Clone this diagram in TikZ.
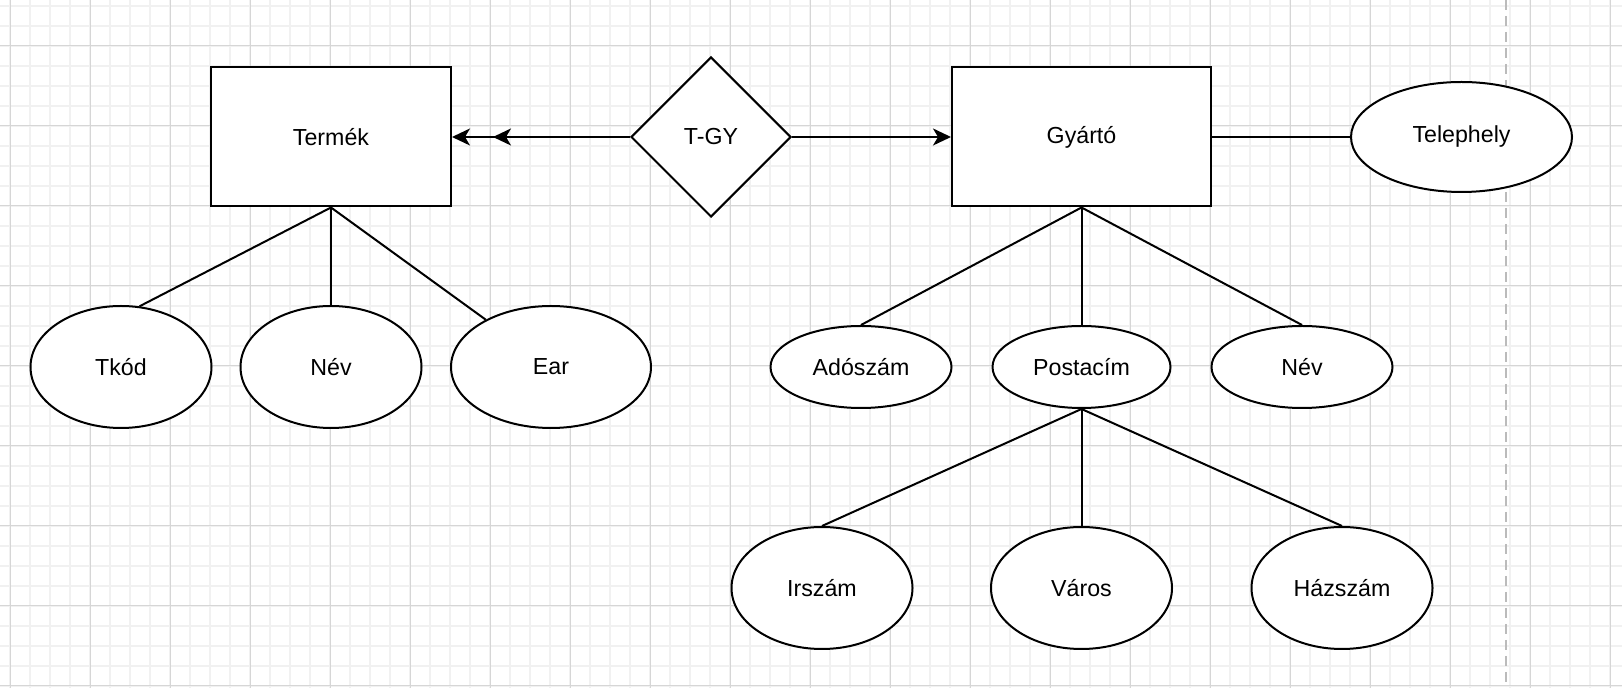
\documentclass[tikz,border=0pt]{standalone}
\usepackage{fontspec}
\setmainfont{Liberation Sans}
\usetikzlibrary{arrows.meta, shapes.geometric}
\definecolor{gridminor}{HTML}{F1F1F1}
\definecolor{gridmajor}{HTML}{D6D6D6}
\definecolor{pagebreak}{HTML}{BBBBBB}

\begin{document}
\begin{tikzpicture}[x=0.5pt, y=-0.5pt, line width=1pt,
    font=\fontsize{11.6}{14}\selectfont,
    >={Stealth[length=9pt, width=8.5pt, inset=2.5pt]},
    entity/.style = {draw, fill=white, minimum width=120pt, minimum height=69.5pt},
    attrib/.style = {draw, ellipse, fill=white, inner sep=0pt, minimum width=90.5pt, minimum height=61pt},
    rel/.style = {draw, diamond, fill=white, inner sep=0pt, minimum size=80pt}]
    \useasboundingbox (0,0) rectangle (1622,688);

    % grid
    \foreach \gx in {10,30,...,1610} \draw[gridminor, line width=0.7pt] (\gx,0) -- (\gx,688);
    \foreach \gy in {6,26,...,686} \draw[gridminor, line width=0.7pt] (0,\gy) -- (1622,\gy);
    \foreach \gx in {10,90,...,1610} \draw[gridmajor, line width=0.5pt] (\gx,0) -- (\gx,688);
    \foreach \gy in {46,126,...,686} \draw[gridmajor, line width=0.5pt] (0,\gy) -- (1622,\gy);
    \draw[pagebreak, dash pattern=on 5pt off 3pt] (1506,0) -- (1506,688);

    \node[entity] (termek) at (331,137) {Termék};
    \node[rel] (tgy) at (711,137) {T-GY};
    \node[entity, minimum width=129.5pt] (gyarto) at (1081.5,137) {Gyártó};
    \node[attrib, minimum width=110.5pt, minimum height=55pt] (telephely) at (1461.5,137) {Telephely};

    \node[attrib] (tkod) at (121,367) {Tkód};
    \node[attrib] (nev1) at (331,367) {Név};
    \node[attrib, minimum width=100pt] (ear) at (551,367) {Ear};

    \node[attrib, minimum height=41pt] (adoszam) at (861,367) {Adószám};
    \node[attrib, minimum width=89pt, minimum height=41pt] (postacim) at (1081.5,367) {Postacím};
    \node[attrib, minimum height=41pt] (nev2) at (1302,367) {Név};

    \node[attrib] (irszam) at (822,588) {Irszám};
    \node[attrib] (varos) at (1081.5,588) {Város};
    \node[attrib] (hazszam) at (1342,588) {Házszám};

    \draw[-{>[sep=11.5pt]>}] (tgy.west) -- (termek.east);
    \draw[->] (tgy.east) -- (gyarto.west);
    \draw (gyarto.east) -- (telephely.west);

    \draw (termek.south) -- (tkod.73);
    \draw (termek.south) -- (nev1.north);
    \draw (termek.south) -- (ear);

    \draw (gyarto.south) -- (adoszam.north);
    \draw (gyarto.south) -- (postacim.north);
    \draw (gyarto.south) -- (nev2.north);

    \draw (postacim.south) -- (irszam.north);
    \draw (postacim.south) -- (varos.north);
    \draw (postacim.south) -- (hazszam.north);
\end{tikzpicture}
\end{document}
